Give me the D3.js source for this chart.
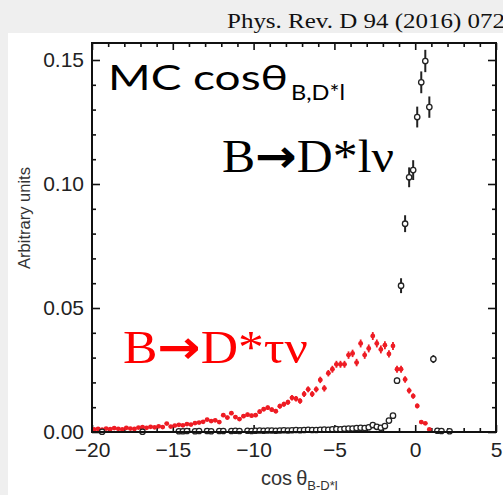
<!DOCTYPE html>
<html>
<head>
<meta charset="utf-8" />
<style>
body {
  margin: 0;
  background-color: #efefef;
}
svg {
  display: block;
}
.axis path {
  display: none;
}
.axis line {
  stroke: #111;
  stroke-width: 1.6px;
}
.axis text {
  font-family: "Liberation Sans", Arial, sans-serif;
  font-size: 21px;
  fill: #222;
}
</style>
<script src="https://cdnjs.cloudflare.com/ajax/libs/d3/7.8.5/d3.min.js"></script>
</head>
<body>
<div id="chart"></div>
<script>
// B -> D* tau nu (red), [cos theta, value, error]
var tauPoints = [
  [-19.875, 0.0010, 0.0004], [-19.625, 0.0012, 0.0004], [-19.375, 0.0009, 0.0004], [-19.125, 0.0014, 0.0004],
  [-18.875, 0.0011, 0.0004], [-18.625, 0.0016, 0.0004], [-18.375, 0.0013, 0.0004], [-18.125, 0.0010, 0.0004],
  [-17.875, 0.0017, 0.0004], [-17.625, 0.0014, 0.0004], [-17.375, 0.0012, 0.0004], [-17.125, 0.0018, 0.0004],
  [-16.875, 0.0020, 0.0005], [-16.625, 0.0017, 0.0005], [-16.375, 0.0021, 0.0005], [-16.125, 0.0019, 0.0005],
  [-15.875, 0.0023, 0.0005], [-15.625, 0.0020, 0.0005], [-15.375, 0.0034, 0.0005], [-15.125, 0.0022, 0.0005],
  [-14.875, 0.0026, 0.0005], [-14.625, 0.0029, 0.0005], [-14.375, 0.0027, 0.0005], [-14.125, 0.0032, 0.0006],
  [-13.875, 0.0030, 0.0006], [-13.625, 0.0036, 0.0006], [-13.375, 0.0038, 0.0006], [-13.125, 0.0041, 0.0006],
  [-12.875, 0.0050, 0.0007], [-12.625, 0.0044, 0.0007], [-12.375, 0.0047, 0.0007], [-12.125, 0.0040, 0.0007],
  [-11.875, 0.0068, 0.0008], [-11.625, 0.0058, 0.0008], [-11.375, 0.0076, 0.0008], [-11.125, 0.0060, 0.0008],
  [-10.875, 0.0052, 0.0008], [-10.625, 0.0064, 0.0008], [-10.375, 0.0070, 0.0008], [-10.125, 0.0066, 0.0008],
  [-9.875, 0.0068, 0.0008], [-9.625, 0.0082, 0.0009], [-9.375, 0.0092, 0.0009], [-9.125, 0.0098, 0.0009],
  [-8.875, 0.0090, 0.0009], [-8.625, 0.0084, 0.0009], [-8.375, 0.0104, 0.0010], [-8.125, 0.0112, 0.0010],
  [-7.875, 0.0120, 0.0010], [-7.625, 0.0138, 0.0011], [-7.375, 0.0134, 0.0011], [-7.125, 0.0125, 0.0011],
  [-6.875, 0.0153, 0.0012], [-6.625, 0.0172, 0.0012], [-6.375, 0.0153, 0.0012], [-6.125, 0.0172, 0.0012],
  [-5.875, 0.0210, 0.0013], [-5.625, 0.0176, 0.0013], [-5.375, 0.0237, 0.0013], [-5.125, 0.0253, 0.0014],
  [-4.875, 0.0273, 0.0014], [-4.625, 0.0273, 0.0014], [-4.375, 0.0273, 0.0014], [-4.125, 0.0310, 0.0015],
  [-3.875, 0.0317, 0.0015], [-3.625, 0.0280, 0.0015], [-3.375, 0.0357, 0.0016], [-3.125, 0.0310, 0.0015],
  [-2.875, 0.0337, 0.0016], [-2.625, 0.0387, 0.0016], [-2.375, 0.0357, 0.0016], [-2.125, 0.0333, 0.0016],
  [-1.875, 0.0350, 0.0016], [-1.625, 0.0315, 0.0015], [-1.375, 0.0347, 0.0016], [-1.125, 0.0253, 0.0014],
  [-0.875, 0.0253, 0.0014], [-0.625, 0.0212, 0.0013], [-0.375, 0.0167, 0.0012], [-0.125, 0.0145, 0.0011],
  [0.125, 0.0105, 0.0010], [0.375, 0.0040, 0.0006], [0.625, 0.0035, 0.0006], [0.875, 0.0010, 0.0004]
];

// B -> D* l nu (black open circles), [cos theta, value, error]
var lnuPoints = [
  [-19.375, 0.0001, 0.0002], [-16.875, 0.0001, 0.0002],
  [-14.625, 0.0003, 0.0002], [-14.375, 0.0003, 0.0002], [-14.125, 0.0004, 0.0002], [-13.625, 0.0003, 0.0002],
  [-13.375, 0.0004, 0.0002], [-12.875, 0.0004, 0.0002], [-12.625, 0.0003, 0.0002], [-12.125, 0.0004, 0.0002],
  [-11.875, 0.0004, 0.0002], [-11.375, 0.0004, 0.0002], [-11.125, 0.0005, 0.0002], [-10.875, 0.0004, 0.0002],
  [-10.375, 0.0005, 0.0002], [-10.125, 0.0004, 0.0002], [-9.875, 0.0005, 0.0002], [-9.625, 0.0006, 0.0002],
  [-9.375, 0.0005, 0.0002], [-9.125, 0.0006, 0.0002], [-8.875, 0.0006, 0.0002], [-8.625, 0.0005, 0.0002],
  [-8.375, 0.0006, 0.0002], [-8.125, 0.0007, 0.0002], [-7.875, 0.0006, 0.0002], [-7.625, 0.0007, 0.0002],
  [-7.375, 0.0008, 0.0002], [-7.125, 0.0007, 0.0002], [-6.875, 0.0008, 0.0002], [-6.625, 0.0009, 0.0002],
  [-6.375, 0.0008, 0.0002], [-6.125, 0.0008, 0.0002], [-5.875, 0.0009, 0.0002], [-5.625, 0.0010, 0.0002],
  [-5.375, 0.0009, 0.0002], [-5.125, 0.0011, 0.0002], [-4.875, 0.0012, 0.0002], [-4.625, 0.0011, 0.0002],
  [-4.375, 0.0013, 0.0002], [-4.125, 0.0014, 0.0002], [-3.875, 0.0014, 0.0002], [-3.625, 0.0016, 0.0002],
  [-3.375, 0.0017, 0.0002], [-3.125, 0.0016, 0.0002], [-2.875, 0.0019, 0.0003], [-2.625, 0.0028, 0.0003],
  [-2.375, 0.0021, 0.0003], [-2.125, 0.0017, 0.0003], [-1.875, 0.0024, 0.0003], [-1.625, 0.0046, 0.0004],
  [-1.375, 0.0066, 0.0005], [-1.125, 0.0207, 0.0012], [-0.875, 0.0590, 0.0030], [-0.625, 0.0840, 0.0034],
  [-0.375, 0.1027, 0.0040], [-0.125, 0.1056, 0.0040], [0.125, 0.1270, 0.0042], [0.375, 0.1410, 0.0044],
  [0.625, 0.1496, 0.0045], [0.875, 0.1310, 0.0043], [1.125, 0.0294, 0.0016], [1.375, 0.0005, 0.0002],
  [1.625, 0.0004, 0.0002], [2.125, 0.0003, 0.0002]
];

var xMajor = [-20, -15, -10, -5, 0, 5];
var xMinor = [-19, -18, -17, -16, -14, -13, -12, -11, -9, -8, -7, -6, -4, -3, -2, -1, 1, 2, 3, 4];
var yMajor = [0, 0.05, 0.10, 0.15];
var yMinor = [0.01, 0.02, 0.03, 0.04, 0.06, 0.07, 0.08, 0.09, 0.11, 0.12, 0.13, 0.14];

var W = 503, H = 495;
var plotLeft = 92, plotRight = 496, plotTop = 43, plotBottom = 432;

var svg = d3.select("#chart").append("svg")
  .attr("width", W)
  .attr("height", H);

// slide background: grey strip, white figure area
svg.append("rect").attr("x", 0).attr("y", 0).attr("width", W).attr("height", H).attr("fill", "#efefef");
svg.append("rect").attr("x", 8).attr("y", 33).attr("width", W - 8).attr("height", H - 33).attr("fill", "#fff");

svg.append("text")
  .attr("x", 227).attr("y", 28)
  .attr("font-family", "'Liberation Serif', 'DejaVu Serif', serif")
  .attr("font-size", 20)
  .attr("textLength", 278).attr("lengthAdjust", "spacingAndGlyphs")
  .attr("fill", "#111")
  .text("Phys. Rev. D 94 (2016) 072");

var x = d3.scaleLinear().domain([-20, 5]).range([plotLeft, plotRight]);
var y = d3.scaleLinear().domain([0, 0.15]).range([plotBottom, 60]);

// ticks, all pointing inwards
function addAxis(axis, tx, ty) {
  svg.append("g").attr("class", "axis")
    .attr("transform", "translate(" + tx + "," + ty + ")")
    .call(axis);
}
addAxis(d3.axisLeft(y).tickValues(yMajor).tickSize(-8).tickPadding(8).tickFormat(d3.format(".2f")), plotLeft, 0);
addAxis(d3.axisLeft(y).tickValues(yMinor).tickSize(-4).tickFormat(""), plotLeft, 0);
addAxis(d3.axisRight(y).tickValues(yMajor).tickSize(-8).tickFormat(""), plotRight, 0);
addAxis(d3.axisRight(y).tickValues(yMinor).tickSize(-4).tickFormat(""), plotRight, 0);
addAxis(d3.axisBottom(x).tickValues(xMajor).tickSize(-7).tickPadding(10).tickFormat(d3.format("d")), 0, plotBottom);
addAxis(d3.axisBottom(x).tickValues(xMinor).tickSize(-4).tickFormat(""), 0, plotBottom);
addAxis(d3.axisTop(x).tickValues(xMajor).tickSize(-7).tickFormat(""), 0, plotTop);
addAxis(d3.axisTop(x).tickValues(xMinor).tickSize(-4).tickFormat(""), 0, plotTop);

// red points with error crosses
var red = "#ee1c24";
var tau = svg.append("g");
tau.selectAll(".ey").data(tauPoints).enter().append("line")
  .attr("x1", function(d) { return x(d[0]); })
  .attr("x2", function(d) { return x(d[0]); })
  .attr("y1", function(d) { return y(d[1] - d[2]); })
  .attr("y2", function(d) { return y(d[1] + d[2]); })
  .attr("stroke", red).attr("stroke-width", 1.8);
tau.selectAll(".ex").data(tauPoints).enter().append("line")
  .attr("x1", function(d) { return x(d[0] - 0.125); })
  .attr("x2", function(d) { return x(d[0] + 0.125); })
  .attr("y1", function(d) { return y(d[1]); })
  .attr("y2", function(d) { return y(d[1]); })
  .attr("stroke", red).attr("stroke-width", 1.8);
tau.selectAll("circle").data(tauPoints).enter().append("circle")
  .attr("cx", function(d) { return x(d[0]); })
  .attr("cy", function(d) { return y(d[1]); })
  .attr("r", 2.4)
  .attr("fill", red);

// black open circles
var lnu = svg.append("g");
lnu.selectAll("line").data(lnuPoints).enter().append("line")
  .attr("x1", function(d) { return x(d[0]); })
  .attr("x2", function(d) { return x(d[0]); })
  .attr("y1", function(d) { return y(d[1] - d[2]); })
  .attr("y2", function(d) { return y(d[1] + d[2]); })
  .attr("stroke", "#222").attr("stroke-width", 2);
lnu.selectAll("circle").data(lnuPoints).enter().append("circle")
  .attr("cx", function(d) { return x(d[0]); })
  .attr("cy", function(d) { return y(d[1]); })
  .attr("r", 2.7)
  .attr("fill", "#fff")
  .attr("stroke", "#222").attr("stroke-width", 1.3);

// frame
svg.append("rect")
  .attr("x", plotLeft).attr("y", plotTop)
  .attr("width", plotRight - plotLeft).attr("height", plotBottom - plotTop)
  .attr("fill", "none").attr("stroke", "#111").attr("stroke-width", 2);

// axis titles
svg.append("text")
  .attr("transform", "translate(30,218)rotate(-90)")
  .attr("text-anchor", "middle")
  .attr("font-family", "'Liberation Sans', Arial, sans-serif")
  .attr("font-size", 16.5)
  .attr("fill", "#333")
  .text("Arbitrary units");

var xt = svg.append("text")
  .attr("x", 261).attr("y", 485)
  .attr("font-family", "'Liberation Sans', Arial, sans-serif")
  .attr("font-size", 20)
  .attr("fill", "#333");
xt.append("tspan").text("cos\u2009\u03b8");
xt.append("tspan").attr("font-size", 13).attr("dy", 5).text("B-D*l");

// slide labels
svg.append("text")
  .attr("x", 108).attr("y", 90)
  .attr("font-family", "Lato, 'Open Sans', sans-serif")
  .attr("font-size", 35)
  .attr("textLength", 180).attr("lengthAdjust", "spacingAndGlyphs")
  .attr("fill", "#000")
  .text("MC cos\u03b8");
svg.append("text")
  .attr("x", 291).attr("y", 100)
  .attr("font-family", "Lato, 'Open Sans', sans-serif")
  .attr("font-size", 21)
  .attr("textLength", 54).attr("lengthAdjust", "spacingAndGlyphs")
  .attr("fill", "#000")
  .text("B,D*l");

function decay(tx, ty, tail, color, len) {
  var t = svg.append("text")
    .attr("x", tx).attr("y", ty)
    .attr("font-family", "'Liberation Serif', 'Times New Roman', serif")
    .attr("font-size", 46)
    .attr("fill", color)
    .attr("textLength", len).attr("lengthAdjust", "spacingAndGlyphs");
  t.append("tspan").text("B");
  t.append("tspan").attr("font-family", "'DejaVu Sans', sans-serif").attr("font-weight", "bold").text("\u2192");
  t.append("tspan").text("D*" + tail);
}
decay(222, 172, "l\u03bd", "#000", 172);
decay(123, 363, "\u03c4\u03bd", "#ff0000", 185);
</script>
</body>
</html>
